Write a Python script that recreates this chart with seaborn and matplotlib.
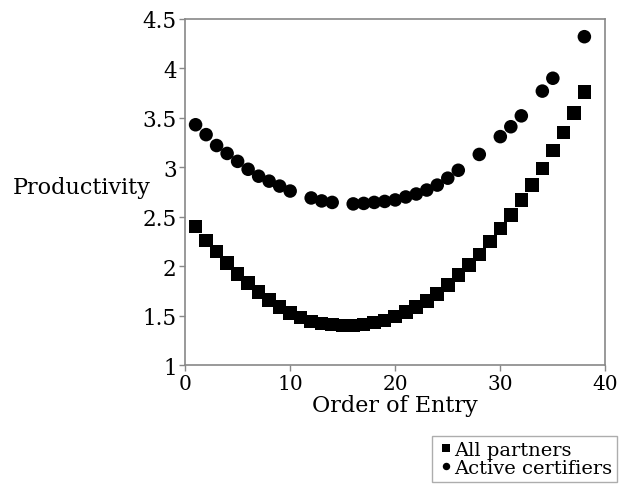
import pandas as pd
import seaborn as sns
import matplotlib
matplotlib.use("Agg")
import matplotlib.pyplot as plt

# values
partners_x = list(range(1, 39))
partners_y = [2.40, 2.26, 2.15, 2.03, 1.92, 1.83, 1.74, 1.66, 1.59, 1.53,
              1.48, 1.44, 1.42, 1.41, 1.40, 1.40, 1.41, 1.43, 1.45, 1.49,
              1.54, 1.59, 1.65, 1.72, 1.81, 1.91, 2.01, 2.12, 2.25, 2.38,
              2.52, 2.67, 2.82, 2.99, 3.17, 3.35, 3.55, 3.76]

certifiers_x = [1, 2, 3, 4, 5, 6, 7, 8, 9, 10, 12, 13, 14, 16, 17, 18, 19,
                20, 21, 22, 23, 24, 25, 26, 28, 30, 31, 32, 34, 35, 38]
certifiers_y = [3.43, 3.33, 3.22, 3.14, 3.06, 2.98, 2.91, 2.86, 2.81, 2.76,
                2.69, 2.66, 2.645, 2.63, 2.635, 2.645, 2.655, 2.67, 2.70,
                2.73, 2.77, 2.82, 2.89, 2.97, 3.13, 3.31, 3.41, 3.52, 3.77,
                3.90, 4.32]

series_names = ["All partners", "Active certifiers"]
x_ticks = [0, 10, 20, 30, 40]
y_ticks = [1, 1.5, 2, 2.5, 3, 3.5, 4, 4.5]
y_tick_labels = ["1", "1.5", "2", "2.5", "3", "3.5", "4", "4.5"]

df = pd.concat([
    pd.DataFrame({"order": partners_x, "prod": partners_y, "group": series_names[0]}),
    pd.DataFrame({"order": certifiers_x, "prod": certifiers_y, "group": series_names[1]}),
])

sns.set_style("white")
plt.rcParams["font.family"] = ["DejaVu Serif", "DejaVu Sans"]
plt.rcParams["text.color"] = "black"

fig = plt.figure(figsize=(6.19, 4.85), dpi=100)
ax = fig.add_axes([0.299, 0.245, 0.679, 0.714])

sns.scatterplot(data=df, x="order", y="prod", hue="group", style="group",
                hue_order=series_names, style_order=series_names,
                palette=["black", "black"], markers={"All partners": "s", "Active certifiers": "o"},
                s=95, linewidth=0, ax=ax)

ax.set_xlim(0, 40)
ax.set_ylim(1, 4.5)
ax.set_xticks(x_ticks)
ax.set_yticks(y_ticks)
ax.set_yticklabels(y_tick_labels)
ax.tick_params(axis="both", direction="out", length=4, width=1, color="#888888",
               labelcolor="black", bottom=True, left=True, pad=2)
ax.tick_params(axis="x", labelsize=14.5)
ax.tick_params(axis="y", labelsize=15.5)
for sp in ax.spines.values():
    sp.set_color("#888888")
    sp.set_linewidth(1.2)

ax.set_xlabel("Order of Entry", fontsize=16, color="black", labelpad=1)
ax.set_ylabel("Productivity", fontsize=16, color="black", rotation=0,
              ha="right", va="center")
ax.yaxis.set_label_coords(-0.083, 0.514)

leg = ax.legend(loc="upper left", bbox_to_anchor=(432 / 619, 1 - 437 / 485),
                bbox_transform=fig.transFigure, fontsize=14, frameon=True,
                fancybox=False, borderpad=0.25, handletextpad=0.0, labelspacing=0.0,
                handlelength=0.9, borderaxespad=0, markerscale=0.55)
leg.get_frame().set_edgecolor("#999999")
leg.get_frame().set_linewidth(1.0)
for t in leg.get_texts():
    t.set_color("black")

fig.savefig("out.png", dpi=100)
